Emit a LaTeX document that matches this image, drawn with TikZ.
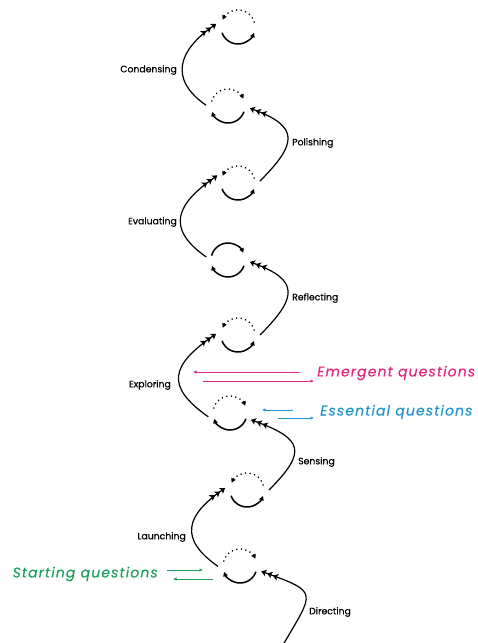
\documentclass[tikz,border=0pt]{standalone}
\usepackage{fontspec}
\setmainfont{Poppins}
\newfontfamily\labfont{Poppins}[FakeBold=0.5]
\newfontfamily\qfont{Poppins}[LetterSpace=8,FakeBold=0.3]
\usetikzlibrary{arrows.meta,calc}
\definecolor{emcol}{RGB}{228,39,126}
\definecolor{escol}{RGB}{36,150,205}
\definecolor{stcol}{RGB}{30,160,92}
\tikzset{
  hub/.style={circle,minimum size=44pt,inner sep=0pt,outer sep=0pt},
  ringsolid/.style={line width=1.5pt,-{Triangle[length=4.5pt,width=4.5pt]}},
  ringdot/.style={line width=1.3pt,dash pattern=on 1.2pt off 3.4pt,-{Triangle[length=4.5pt,width=4.5pt]}},
  bigarc/.style={line width=1.2pt,-{Stealth[length=5pt,width=6.8pt,inset=1.2pt,sep=1.2pt]Stealth[length=5pt,width=6.8pt,inset=1.2pt,sep=1.2pt]Stealth[length=5pt,width=6.8pt,inset=1.2pt]}},
  lab/.style={font=\labfont\fontsize{9.3}{11}\selectfont,inner sep=0pt},
  qlab/.style={font=\qfont\fontsize{14}{16}\selectfont\itshape,inner sep=0pt},
  qarrow/.style={line width=0.9pt,-{Latex[length=3.5pt,width=3.5pt]}}
}
\newcommand\leftring[1]{%
  \draw[ringsolid] ([shift={(200:17)}]#1.center) arc[start angle=200,end angle=340,radius=17];
  \draw[ringdot] ([shift={(15:17)}]#1.center) arc[start angle=15,end angle=155,radius=17];}
\newcommand\rightring[2]{%
  \draw[ringsolid] ([shift={(-20:17)}]#1.center) arc[start angle=-20,end angle=-160,radius=17];
  \draw[#2] ([shift={(165:17)}]#1.center) arc[start angle=165,end angle=25,radius=17];}
\begin{document}
\begin{tikzpicture}[x=1pt,y=1pt]
\useasboundingbox (0,0) rectangle (478,-643);
% hubs
\node[hub] (c1) at (238,-27) {};
\node[hub] (c2) at (228,-106) {};
\node[hub] (c3) at (238,-183) {};
\node[hub] (c4) at (228,-260) {};
\node[hub] (c5) at (238,-335) {};
\node[hub] (c6) at (230,-413) {};
\node[hub] (c7) at (247,-490) {};
\node[hub] (c8) at (240,-566) {};
\coordinate (d0) at (283,-645);
% rings
\leftring{c1}
\rightring{c2}{ringdot}
\leftring{c3}
\rightring{c4}{ringsolid}
\leftring{c5}
\rightring{c6}{ringdot}
\leftring{c7}
\rightring{c8}{ringdot}
% big arcs (left)
\draw[bigarc] (c2.178) .. controls +(145:46) and +(215:46) .. (c1.172);
\draw[bigarc] (c4.172) .. controls +(145:50) and +(215:50) .. (c3.160);
\draw[bigarc] (c6.190) .. controls +(145:54) and +(215:54) .. (c5.177);
\draw[bigarc] (c8.181) .. controls +(145:48) and +(215:48) .. (c7.175);
% big arcs (right)
\draw[bigarc] (c3.5) .. controls +(45:53) and +(-20:53) .. (c2.-6);
\draw[bigarc] (c5.0) .. controls +(45:53) and +(-20:53) .. (c4.-5);
\draw[bigarc] (c7.0) .. controls +(45:55) and +(-20:55) .. (c6.-18);
\draw[bigarc] (d0) .. controls +(60:62) and +(-20:62) .. (c8.-14);
% labels
\node[lab,anchor=east] (lcond) at (177,-70) {Condensing};
\node[lab,anchor=west] (lpol) at (292,-143) {Polishing};
\node[lab,anchor=east] (leval) at (177,-222) {Evaluating};
\node[lab,anchor=west] (lrefl) at (292,-298) {Reflecting};
\node[lab,anchor=east] (lexpl) at (171,-385) {Exploring};
\node[lab,anchor=west] (lsens) at (298,-462) {Sensing};
\node[lab,anchor=east] (llaun) at (186,-537) {Launching};
\node[lab,anchor=west] (ldir) at (309,-612) {Directing};
% question texts
\node[qlab,text=emcol,anchor=west] (qem) at (317,-373) {Emergent questions};
\node[qlab,text=escol,anchor=west] (qes) at (320,-412) {Essential questions};
\node[qlab,text=stcol,anchor=east] (qst) at (158,-574) {Starting questions};
% question arrows
\coordinate (em1) at (193,-372);
\coordinate (em2) at (203,-381);
\coordinate (es1) at (262,-410);
\coordinate (es2) at (278,-418);
\coordinate (st1) at (203,-570);
\coordinate (st2) at (213,-579);
\draw[qarrow,emcol] ([xshift=-17pt]qem.west |- em1) -- (em1);
\draw[qarrow,emcol] (em2) -- ([xshift=-3pt]qem.west |- em2);
\draw[qarrow,escol] ([xshift=-27pt]qes.west |- es1) -- (es1);
\draw[qarrow,escol] (es2) -- ([xshift=-6pt]qes.west |- es2);
\draw[qarrow,stcol] ([xshift=9pt]qst.east |- st1) -- (st1);
\draw[qarrow,stcol] (st2) -- ([xshift=15pt]qst.east |- st2);
\end{tikzpicture}
\end{document}
